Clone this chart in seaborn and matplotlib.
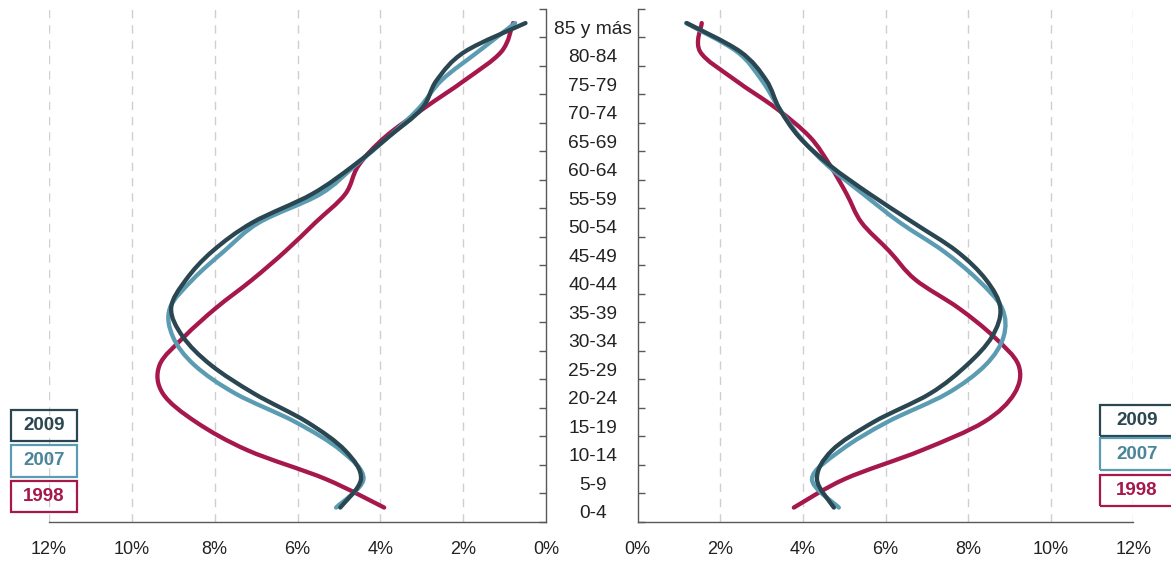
import matplotlib.pyplot as plt
import matplotlib.transforms as mtransforms
from matplotlib.patches import Rectangle, PathPatch
from matplotlib.path import Path
import numpy as np
import pandas as pd
import seaborn as sns

# Age groups (bottom to top)
ages = ['0-4', '5-9', '10-14', '15-19', '20-24', '25-29', '30-34', '35-39', '40-44',
        '45-49', '50-54', '55-59', '60-64', '65-69', '70-74', '75-79', '80-84', '85 y más']
years = ['2009', '2007', '1998']

# Share of population (%) by age group, left side of the pyramid
left_2009 = [4.97, 4.47, 4.85, 5.77, 7.05, 8.09, 8.77, 9.05, 8.69, 8.05, 7.09, 5.65, 4.65, 3.81, 3.00, 2.64, 1.96, 0.50]
left_2007 = [5.07, 4.41, 4.95, 6.05, 7.50, 8.49, 9.01, 9.08, 8.53, 7.77, 6.93, 5.45, 4.61, 3.81, 3.08, 2.52, 1.64, 0.75]
left_1998 = [3.91, 5.32, 7.19, 8.45, 9.25, 9.33, 8.73, 7.97, 7.09, 6.29, 5.57, 4.85, 4.53, 3.89, 2.96, 1.96, 1.08, 0.80]

# Right side of the pyramid
right_2009 = [4.75, 4.34, 4.70, 5.71, 7.08, 7.97, 8.58, 8.78, 8.43, 7.72, 6.67, 5.62, 4.66, 3.91, 3.43, 3.11, 2.48, 1.19]
right_2007 = [4.87, 4.22, 4.91, 6.04, 7.49, 8.42, 8.86, 8.82, 8.23, 7.40, 6.35, 5.46, 4.60, 3.93, 3.43, 3.00, 2.40, 1.17]
right_1998 = [3.78, 5.01, 6.86, 8.38, 9.12, 9.22, 8.62, 7.77, 6.72, 6.09, 5.42, 5.06, 4.66, 4.17, 3.36, 2.36, 1.51, 1.55]

xticks = [0, 2, 4, 6, 8, 10, 12]
colors = {'2009': '#2a4650', '2007': '#5b9cb2', '1998': '#a6184c'}
text_colors = {'2009': '#2a4650', '2007': '#4b8599', '1998': '#a6184c'}


def make_df(series):
    rows = []
    for year, vals in zip(years, series):
        for i, v in enumerate(vals):
            rows.append({'year': year, 'pos': i + 0.5, 'pct': v})
    return pd.DataFrame(rows)


def smooth_lines(ax):
    # turn seaborn's polylines into smoothed curves (like a "smoothed line" chart)
    for line in list(ax.get_lines()):
        pts = line.get_xydata()
        if len(pts) < 3:
            continue
        p = np.vstack([pts[0], pts, pts[-1]])
        verts = [pts[0]]
        codes = [Path.MOVETO]
        for i in range(1, len(p) - 2):
            c1 = p[i] + (p[i + 1] - p[i - 1]) / 6
            c2 = p[i + 1] - (p[i + 2] - p[i]) / 6
            verts += [c1, c2, p[i + 1]]
            codes += [Path.CURVE4] * 3
        ax.add_patch(PathPatch(Path(verts, codes), fill=False, ec=line.get_color(),
                               lw=line.get_linewidth(), capstyle='round',
                               joinstyle='round', zorder=line.get_zorder()))
        line.set_visible(False)


df_left = make_df([left_2009, left_2007, left_1998])
df_right = make_df([right_2009, right_2007, right_1998])

sns.set_style('white')
plt.rcParams['font.family'] = ['Liberation Sans', 'DejaVu Sans']

fig = plt.figure(figsize=(11.71, 5.62), dpi=100)
ax_l = fig.add_axes([0.04176, 0.0715, 0.4247, 0.9128])
ax_r = fig.add_axes([0.5446, 0.0715, 0.4232, 0.9128])

for ax, df in [(ax_l, df_left), (ax_r, df_right)]:
    sns.lineplot(data=df, x='pct', y='pos', hue='year', palette=colors, hue_order=years[::-1],
                 sort=False, estimator=None, legend=False, lw=3.1, ax=ax, zorder=3)
    smooth_lines(ax)
    ax.set_ylim(0, len(ages))
    ax.set_yticks(range(len(ages) + 1))
    ax.set_yticklabels([])
    ax.set_xticks(xticks)
    ax.set_xticklabels([f'{t}%' for t in xticks])
    ax.set_xlabel('')
    ax.set_ylabel('')
    for t in xticks[1:]:
        ax.axvline(t, color='#cfcfcf', lw=1, ls=(0, (6, 5)), zorder=1)
    ax.tick_params(axis='both', direction='in', length=5, width=1, color='#595959',
                   labelsize=13, labelcolor='#222222')
    ax.tick_params(axis='x', pad=14)
    for s in ax.spines.values():
        s.set_color('#595959')
        s.set_linewidth(1)

ax_l.set_xlim(12, 0)
ax_r.set_xlim(0, 12)
ax_l.spines['left'].set_visible(False)
ax_l.spines['top'].set_visible(False)
ax_r.spines['right'].set_visible(False)
ax_r.spines['top'].set_visible(False)
ax_l.yaxis.tick_right()
ax_r.yaxis.tick_left()

# Age labels between both halves
trans = mtransforms.blended_transform_factory(ax_l.transAxes, ax_l.transData)
for i, a in enumerate(ages):
    ax_l.text(1.094, i + 0.28, a, transform=trans, ha='center', va='center',
              fontsize=13.8, color='#222222', clip_on=False)

# Year boxes
left_boxes = [(0.0091, 0.2150), (0.0091, 0.1520), (0.0091, 0.0890)]
right_boxes = [(0.9395, 0.2240), (0.9395, 0.1640), (0.9395, 0.0990)]
for (lx, ly), (rx, ry), y in zip(left_boxes, right_boxes, years):
    for bx, by, bw in [(lx, ly, 0.0568), (rx, ry, 0.07)]:
        fig.add_artist(Rectangle((bx, by), bw, 0.056, transform=fig.transFigure,
                                 fill=False, ec=colors[y], lw=1.6))
        fig.text(bx + (0.0568 / 2 if bw < 0.06 else 0.0315), by + 0.028, y,
                 ha='center', va='center', fontsize=13.5, fontweight='bold',
                 color=text_colors[y])

fig.savefig('out.png', dpi=100)
